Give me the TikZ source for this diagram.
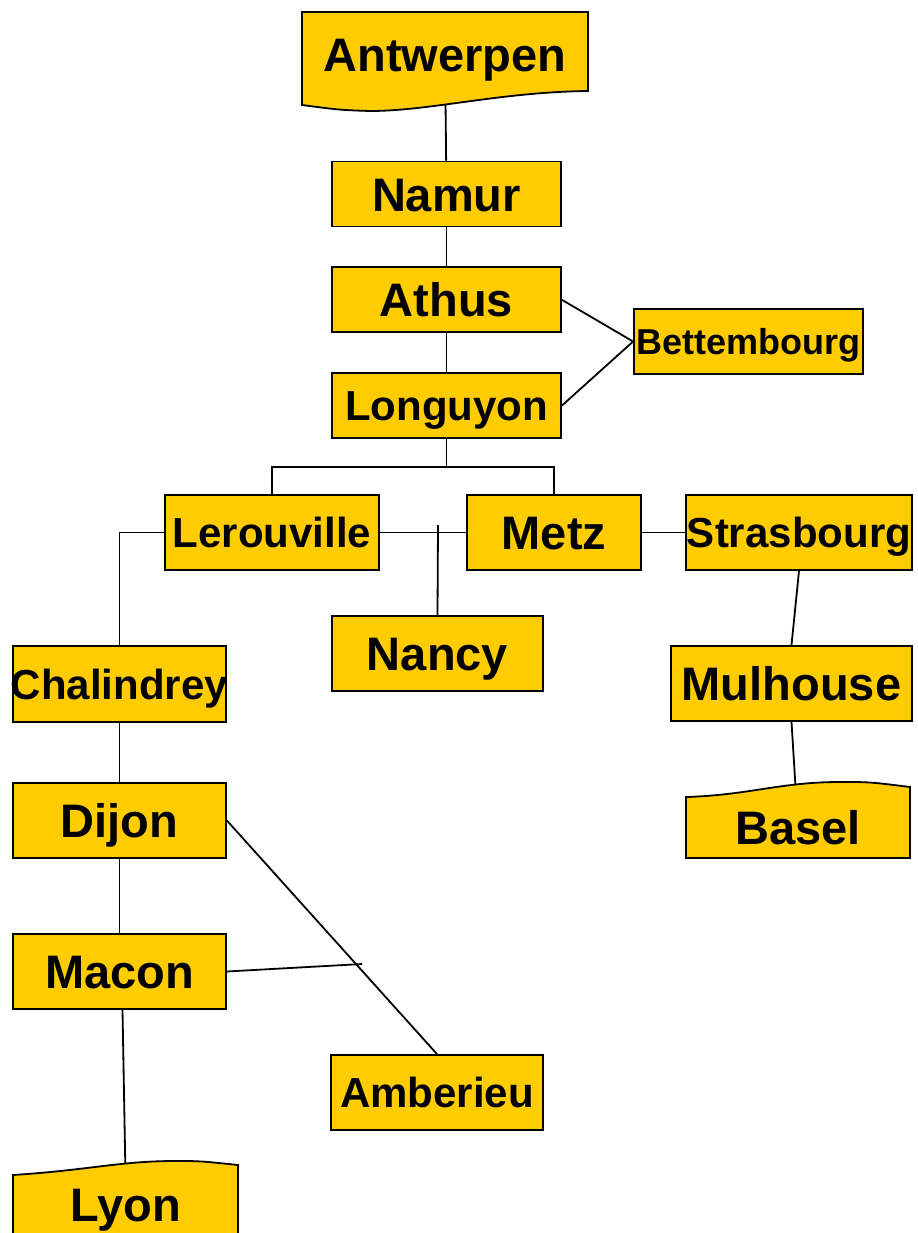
\documentclass[tikz,border=0pt]{standalone}
\usepackage{fontspec}
\setmainfont{Liberation Sans}
\usetikzlibrary{positioning}
\usetikzlibrary{backgrounds}
\definecolor{gold}{HTML}{FFCC00}

\begin{document}
\begin{tikzpicture}[-,x=0.5pt,y=-0.5pt,node distance=19.5pt,line width=0.9pt]
\tikzstyle{v}=[rectangle,draw,fill=gold,inner sep=0pt,minimum width=114.5pt,minimum height=32.5pt,font=\bfseries\fontsize{23.5}{26}\selectfont,text height=17pt,text depth=0pt]
\tikzstyle{vm}=[v,font=\bfseries\fontsize{21}{24}\selectfont,text height=15pt]
\tikzstyle{t}=[inner sep=0pt,font=\bfseries\fontsize{23.5}{26}\selectfont,text height=17pt,text depth=0pt]
\tikzstyle{doc}=[draw,fill=gold]
\tikzstyle{e}=[line width=0.9pt]
\useasboundingbox (0,0) rectangle (917,1233);
\clip (0,0) rectangle (917,1233);
% wavy ends
\draw[doc] (302,12) -- (588,12) -- (588,91) .. controls (500,92) and (430,111) .. (370,111) .. controls (340,110) .. (302,105) -- cycle;
\draw[doc] (686,858) -- (686,797) .. controls (750,795) and (780,782) .. (840,782) .. controls (870,782) .. (910,787) -- (910,858) -- cycle;
\draw[doc] (13,1245) -- (13,1175) .. controls (90,1170) and (120,1161) .. (175,1161) .. controls (200,1161) .. (238,1165) -- (238,1245) -- cycle;
\node[t]	(ant)	at (445,54)	{Antwerpen};
\node[v]	(nam)	at (446.5,194)	{Namur};
\node[v]	(ath)	[below = of nam]	{Athus};
\node[vm]	(lon)	[below = of ath]	{Longuyon};
\node[vm,font=\bfseries\fontsize{18}{20}\selectfont,text height=13pt]	(bet)	at (748.5,341.5)	{Bettembourg};
\node[vm,minimum width=107pt,minimum height=37.5pt]	(ler)	at (272,532.5)	{Lerouville};
\node[v,minimum width=87pt,minimum height=37.5pt]	(met)	at (554,532.5)	{Metz};
\node[vm,minimum width=113pt,minimum height=37.5pt]	(str)	at (799,532.5)	{\makebox[0pt]{Strasbourg}};
\node[v,minimum width=105.5pt,minimum height=37.5pt]	(nan)	at (437.5,653.5)	{Nancy};
\node[vm,minimum width=106.5pt,minimum height=38pt]	(cha)	at (119.5,684)	{\makebox[0pt]{Chalindrey}};
\node[v,minimum width=120.5pt,minimum height=37.5pt]	(mul)	at (791.5,683.5)	{Mulhouse};
\node[t]	(bas)	at (798,827)	{Basel};
\node[v,minimum width=106.5pt,minimum height=37.5pt]	(dij)	at (119.5,820.5)	{Dijon};
\node[v,minimum width=106.5pt,minimum height=37.5pt]	(mac)	at (119.5,971.5)	{Macon};
\node[vm,minimum width=106pt,minimum height=37.5pt]	(amb)	at (437,1092.5)	{Amberieu};
\node[t]	(lyo)	at (126,1204)	{Lyon};
\coordinate (nan-top) at (438,525);
\coordinate (mac-end) at (362,964);
\begin{pgfonlayer}{background}
\draw[e] (ant) -- (nam);
\draw[e] (nam) -- (ath);
\draw[e] (ath) -- (lon);
\draw[e] (ath.east) -- (bet.west);
\draw[e] (lon.east) -- (bet.west);
\draw[e] (lon.south) -- ++(0,28);
\draw[e] (ler.north) |- ([yshift=-14pt]lon.south) -| (met.north);
\draw[e] (ler.east) -- (met.west);
\draw[e] (nan-top) -- (nan.north);
\draw[e] (met.east) -- (str.west);
\draw[e] (ler.west) -| (cha.north);
\draw[e] (str.south) -- (mul.north);
\draw[e] (mul.south) -- (bas);
\draw[e] (cha) -- (dij);
\draw[e] (dij) -- (mac);
\draw[e] (dij.east) -- (amb.north);
\draw[e] (mac.east) -- (mac-end);
\draw[e] ([xshift=1.5pt]mac.south) -- (lyo);
\end{pgfonlayer}
\end{tikzpicture}
\end{document}
